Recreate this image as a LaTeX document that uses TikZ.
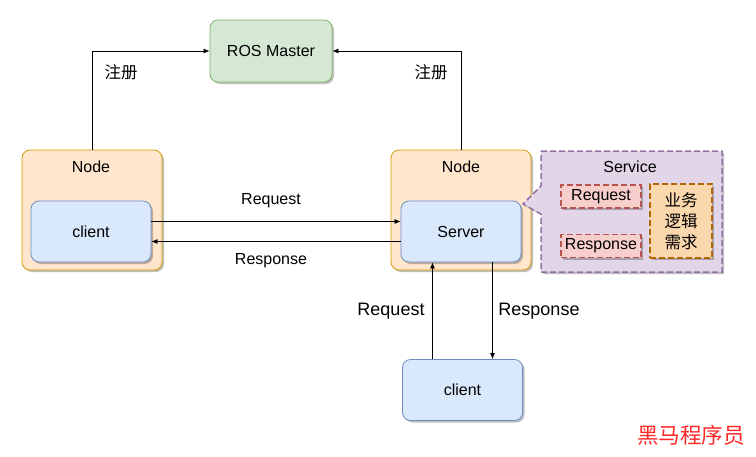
\documentclass[tikz,border=0pt]{standalone}
\usepackage{fontspec}
\setmainfont{Liberation Sans}
\newfontfamily\cjk{Noto Sans CJK SC}
\usetikzlibrary{arrows.meta,shadows,positioning}
\definecolor{gfill}{HTML}{D5E8D4}\definecolor{gline}{HTML}{82B366}
\definecolor{ofill}{HTML}{FFE6CC}\definecolor{oline}{HTML}{D79B00}
\definecolor{bfill}{HTML}{DAE8FC}\definecolor{bline}{HTML}{6C8EBF}
\definecolor{pfill}{HTML}{E1D5E7}\definecolor{pline}{HTML}{9673A6}
\definecolor{rfill}{HTML}{F8CECC}\definecolor{rline}{HTML}{B85450}
\definecolor{yfill}{HTML}{FAD7AC}\definecolor{yline}{HTML}{B46504}
\tikzset{
  x=1pt,y=-1pt,
  shd/.style={drop shadow={shadow xshift=2pt,shadow yshift=-2pt,fill=black,opacity=0.25}},
  fs/.style={font=\fontsize{16}{18}\selectfont},
  box/.style={draw,rounded corners=8pt,line width=0.8pt,shd,minimum width=120pt,minimum height=61pt,fs},
  master/.style={box,fill=gfill,draw=gline,minimum width=122pt,minimum height=62pt},
  nodebox/.style={box,fill=ofill,draw=oline,minimum width=140pt,minimum height=120pt},
  cbox/.style={box,fill=bfill,draw=bline},
  dsh/.style={dash pattern=on 6pt off 3pt,line width=1.5pt},
  dbox/.style={draw,dsh,shd,inner sep=0pt,fs},
  conn/.style={draw=black,line width=0.7pt,-{Latex[length=6pt,width=5pt]}},
  lbl/.style={font=\fontsize{16}{18}\selectfont,text=black},
  zh/.style={font=\cjk\fontsize{16.5}{18}\selectfont},
}
\begin{document}
\begin{tikzpicture}
\useasboundingbox (0,0) rectangle (756,456);
\fill[white] (0,0) rectangle (756,456);
\node[master] (ros) at (271,51) {ROS Master};
\node[nodebox] (ln) at (92,210) {};
\node[fs] (lnl) at (91,167) {Node};
\node[cbox] (lc) at (91,231.5) {client};
\node[nodebox] (rn) at (461,210) {};
\node[fs] (rnl) at (461,167) {Node};
% service callout
\draw[dsh,draw=pline,fill=pfill,shd]
  (541,151) -- (722,151) -- (722,272) -- (541,272) -- (541,214) -- (523,204) -- (541,186) -- cycle;
\node[fs] (svl) at (630,167) {Service};
\node[dbox,fill=rfill,draw=rline,minimum width=80pt,minimum height=23pt] (rq) at (601,196.5) {Request};
\node[dbox,fill=rfill,draw=rline,minimum width=80pt,minimum height=23pt] (rs) at (601,246) {Response};
\node[dbox,fill=yfill,draw=yline,minimum width=62pt,minimum height=74pt,align=center,font=\cjk\fontsize{16.5}{21}\selectfont] (biz) at (681,221) {业务\\逻辑\\需求};
\node[cbox] (sv) at (461,231.5) {Server};
\node[cbox] (bc) at (462.5,390) {client};
% registration
\coordinate (lup) at (ln.north |- ros.west);
\coordinate (rup) at (rn.north |- ros.east);
\draw[conn] (ln.north) -- (lup) -- (ros.west);
\draw[conn] (rn.north) -- (rup) -- (ros.east);
\node[zh] (z1) at (121,72) {注册};
\node[zh] (z2) at (431,72) {注册};
% request/response
\draw[conn] ([yshift=10pt]lc.east) -- ([yshift=10pt]sv.west);
\draw[conn] ([yshift=-10pt]sv.west) -- ([yshift=-10pt]lc.east);
\node[lbl] (l1) at (271,201) {Request};
\node[lbl] (l2) at (271,261) {Response};
\draw[conn] ([xshift=-30pt]bc.north) -- ([xshift=-30pt]bc.north |- sv.south);
\draw[conn] ([xshift=30pt]bc.north |- sv.south) -- ([xshift=30pt]bc.north);
\node[lbl,font=\fontsize{18}{20}\selectfont] (l3) at (391,311) {Request};
\node[lbl,font=\fontsize{18}{20}\selectfont] (l4) at (539,311) {Response};
\node[font=\cjk\fontsize{21.6}{24}\selectfont,text={rgb,255:red,255;green,40;blue,40}] (wm) at (691,435) {黑马程序员};
\end{tikzpicture}
\end{document}
